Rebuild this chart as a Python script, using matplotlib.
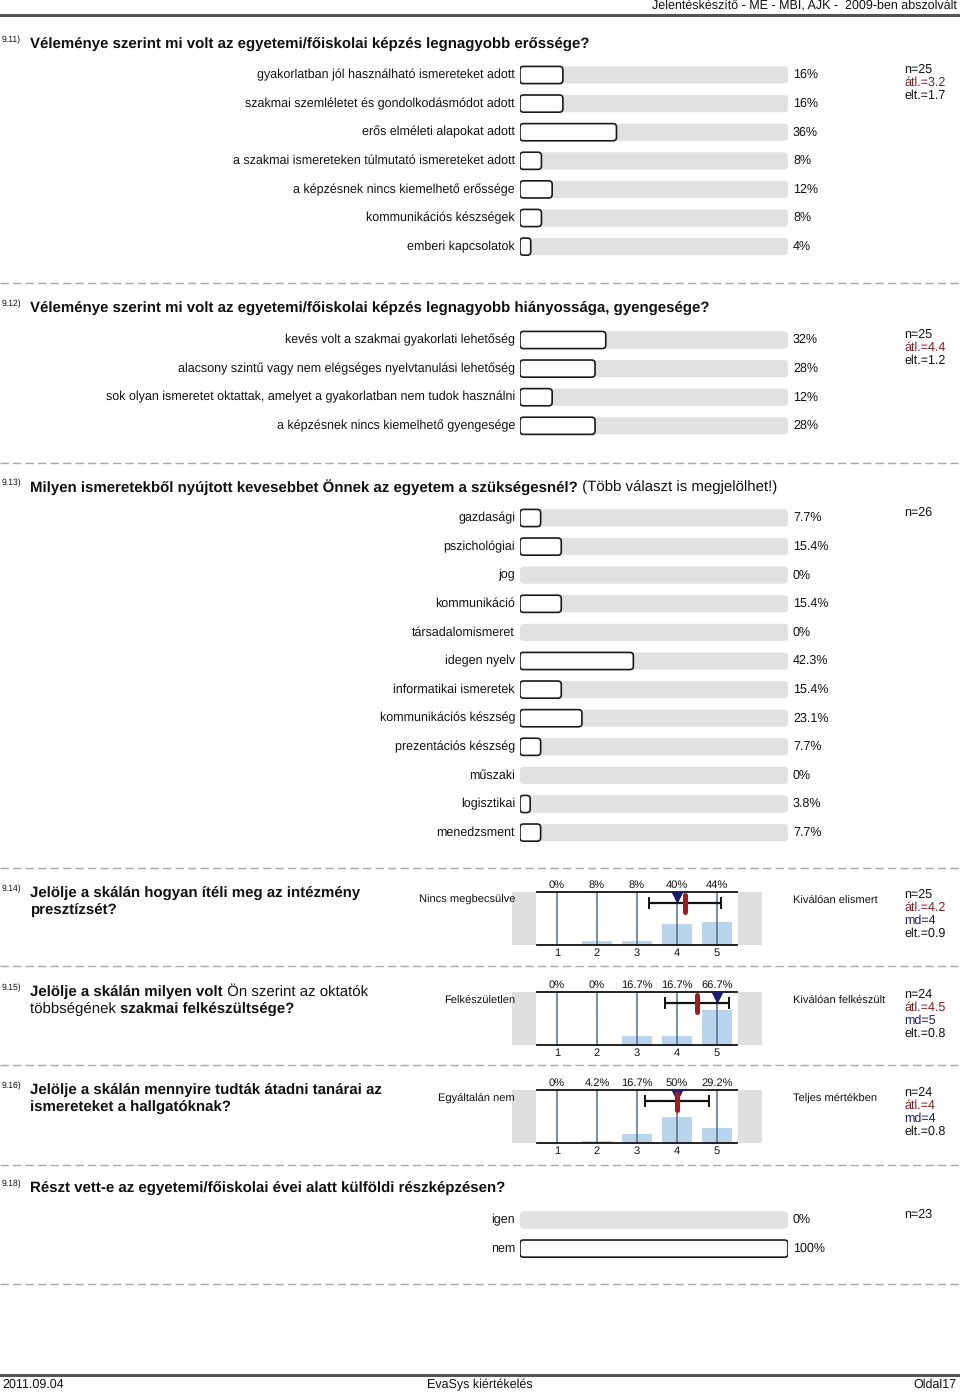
import matplotlib
matplotlib.use('Agg')
import matplotlib.pyplot as plt
from matplotlib.patches import FancyBboxPatch, Rectangle
from matplotlib.lines import Line2D
import matplotlib.transforms as mtransforms

plt.rcParams['font.family'] = ['Liberation Sans', 'DejaVu Sans']
plt.rcParams['text.hinting'] = 'no_hinting'

W, H = 960, 1395
LBL = 9.0
SCL = 8.0
TTL = 10.8
SML = 6.2

# ---------------- data ----------------
header_text = "Jelentéskészítő - ME - MBI, AJK -  2009-ben abszolvált"
footer_left, footer_mid, footer_right = "2011.09.04", "EvaSys kiértékelés", "Oldal17"

q11_num = "9.11)"
q11_title = "Véleménye szerint mi volt az egyetemi/főiskolai képzés legnagyobb erőssége?"
q11_labels = ["gyakorlatban jól használható ismereteket adott",
              "szakmai szemléletet és gondolkodásmódot adott",
              "erős elméleti alapokat adott",
              "a szakmai ismereteken túlmutató ismereteket adott",
              "a képzésnek nincs kiemelhető erőssége",
              "kommunikációs készségek",
              "emberi kapcsolatok"]
q11_values = [16, 16, 36, 8, 12, 8, 4]
q11_stats = ["n=25", "átl.=3.2", "elt.=1.7"]

q12_num = "9.12)"
q12_title = "Véleménye szerint mi volt az egyetemi/főiskolai képzés legnagyobb hiányossága, gyengesége?"
q12_labels = ["kevés volt a szakmai gyakorlati lehetőség",
              "alacsony szintű vagy nem elégséges nyelvtanulási lehetőség",
              "sok olyan ismeretet oktattak, amelyet a gyakorlatban nem tudok használni",
              "a képzésnek nincs kiemelhető gyengesége"]
q12_values = [32, 28, 12, 28]
q12_stats = ["n=25", "átl.=4.4", "elt.=1.2"]

q13_num = "9.13)"
q13_title_bold = "Milyen ismeretekből nyújtott kevesebbet Önnek az egyetem a szükségesnél?"
q13_title_reg = " (Több választ is megjelölhet!)"
q13_labels = ["gazdasági", "pszichológiai", "jog", "kommunikáció", "társadalomismeret",
              "idegen nyelv", "informatikai ismeretek", "kommunikációs készség",
              "prezentációs készség", "műszaki", "logisztikai", "menedzsment"]
q13_values = [7.7, 15.4, 0, 15.4, 0, 42.3, 15.4, 23.1, 7.7, 0, 3.8, 7.7]
q13_stats = ["n=26"]

scale_cats = [1, 2, 3, 4, 5]

q14_num = "9.14)"
q14_title = [[("Jelölje a skálán hogyan ítéli meg az intézmény", 'bold')],
             [("presztízsét?", 'bold')]]
q14_values = [0, 8, 8, 40, 44]
q14_pct = ["0%", "8%", "8%", "40%", "44%"]
q14_mean, q14_median, q14_sd = 4.2, 4, 0.9
q14_left, q14_right = "Nincs megbecsülve", "Kiválóan elismert"
q14_stats = ["n=25", "átl.=4.2", "md=4", "elt.=0.9"]

q15_num = "9.15)"
q15_title = [[("Jelölje a skálán milyen volt", 'bold'), (" Ön szerint az oktatók", 'normal')],
             [("többségének ", 'normal'), ("szakmai felkészültsége?", 'bold')]]
q15_values = [0, 0, 16.7, 16.7, 66.7]
q15_pct = ["0%", "0%", "16.7%", "16.7%", "66.7%"]
q15_mean, q15_median, q15_sd = 4.5, 5, 0.8
q15_left, q15_right = "Felkészületlen", "Kiválóan felkészült"
q15_stats = ["n=24", "átl.=4.5", "md=5", "elt.=0.8"]

q16_num = "9.16)"
q16_title = [[("Jelölje a skálán mennyire tudták átadni tanárai az", 'bold')],
             [("ismereteket a hallgatóknak?", 'bold')]]
q16_values = [0, 4.2, 16.7, 50, 29.2]
q16_pct = ["0%", "4.2%", "16.7%", "50%", "29.2%"]
q16_mean, q16_median, q16_sd = 4.0, 4, 0.8
q16_left, q16_right = "Egyáltalán nem", "Teljes mértékben"
q16_stats = ["n=24", "átl.=4", "md=4", "elt.=0.8"]

q18_num = "9.18)"
q18_title = "Részt vett-e az egyetemi/főiskolai évei alatt külföldi részképzésen?"
q18_labels = ["igen", "nem"]
q18_values = [0, 100]
q18_stats = ["n=23"]

# ---------------- styles ----------------
C_TEXT = '#111111'
C_MEAN = '#7a1f1f'
C_MED = '#1b1b6b'
C_GRAY = '#e1e1e1'
C_SEP = '#a8a8a8'
C_BLUE = '#b9d4ec'
C_VLINE = '#4d6f8c'

fig = plt.figure(figsize=(W / 100, H / 100), dpi=100)


def fy(y):
    return 1 - y / H


def ftext(x, y, s, **kw):
    kw.setdefault('va', 'center')
    kw.setdefault('color', C_TEXT)
    return fig.text(x / W, fy(y), s, **kw)


def hline(y, x0=0, x1=W, **kw):
    fig.add_artist(Line2D([x0 / W, x1 / W], [fy(y), fy(y)], transform=fig.transFigure, **kw))


def stats_text(x, y, stats):
    for k, s in enumerate(stats):
        c = C_TEXT
        if s.startswith('átl'):
            c = C_MEAN
        elif s.startswith('md'):
            c = C_MED
        ftext(x, y + 12.7 * k, s, fontsize=LBL, color=c)


def mixed_line(x, y, parts, size):
    renderer = fig.canvas.get_renderer()
    cx = x
    for s, w in parts:
        t = ftext(cx, y, s, fontsize=size, fontweight=w, ha='left')
        bb = t.get_window_extent(renderer=renderer)
        cx += bb.width


def title(num, y, lines):
    ftext(2, y - 4, num, fontsize=SML)
    for k, parts in enumerate(lines):
        mixed_line(30, y + 16.5 * k, parts, TTL)


ROW = 28.6
BAR_L, BAR_W = 520, 268


def bar_block(first_center, labels, values, stats):
    n = len(labels)
    top = first_center - ROW / 2
    ax = fig.add_axes([BAR_L / W, fy(top + n * ROW), BAR_W / W, n * ROW / H])
    ax.set_xlim(0, 100)
    ax.set_ylim(n - 0.5, -0.5)
    ax.axis('off')
    asp = (BAR_W / 100) / ROW
    bh = 0.6
    r = 1.3
    lab_tr = mtransforms.offset_copy(ax.transData, fig=fig, x=-5, y=0, units='dots')
    pct_tr = mtransforms.offset_copy(ax.transData, fig=fig, x=5, y=0, units='dots')
    for i, (lab, v) in enumerate(zip(labels, values)):
        ax.add_patch(FancyBboxPatch((0, i - bh / 2), 100, bh,
                                    boxstyle=f"round,pad=0,rounding_size={r}",
                                    mutation_aspect=asp, facecolor=C_GRAY,
                                    edgecolor='none', zorder=1))
        if v > 0:
            ax.add_patch(FancyBboxPatch((0, i - bh / 2), v, bh,
                                        boxstyle=f"round,pad=0,rounding_size={r}",
                                        mutation_aspect=asp, facecolor='white',
                                        edgecolor='#1a1a1a', lw=1.2, zorder=2))
        ax.text(0, i, lab, transform=lab_tr, ha='right', va='center',
                fontsize=LBL, color=C_TEXT)
        ax.text(100, i, f"{v:g}%", transform=pct_tr, ha='left', va='center',
                fontsize=LBL, color=C_TEXT)
    stats_text(904, first_center - 5, stats)
    return ax


PLOT_L, PLOT_W, PLOT_H = 537, 200, 53


def scale_block(top, values, pct, mean, median, sd, left, right, stats):
    ax = fig.add_axes([PLOT_L / W, fy(top + PLOT_H), PLOT_W / W, PLOT_H / H])
    ax.set_xlim(0.5, 5.5)
    ax.set_ylim(0, 100)
    ax.bar(scale_cats, values, width=0.75, color=C_BLUE, zorder=1)
    for c in scale_cats:
        ax.axvline(c, color=C_VLINE, lw=1.1, zorder=2)
    for s in ('left', 'right'):
        ax.spines[s].set_visible(False)
    for s in ('top', 'bottom'):
        ax.spines[s].set_linewidth(1.3)
        ax.spines[s].set_color('#111111')
    ax.set_yticks([])
    ax.set_xticks(scale_cats)
    ax.set_xticklabels([str(c) for c in scale_cats], fontsize=SCL, color=C_TEXT)
    ax.tick_params(axis='x', length=0, pad=2)
    ax.set_facecolor('white')
    # side gray blocks
    ax.add_patch(Rectangle((-25 / PLOT_W, 0), 24 / PLOT_W, 1, transform=ax.transAxes,
                           facecolor='#dedede', edgecolor='none', clip_on=False, zorder=0))
    ax.add_patch(Rectangle((1 + 1 / PLOT_W, 0), 24 / PLOT_W, 1, transform=ax.transAxes,
                           facecolor='#dedede', edgecolor='none', clip_on=False, zorder=0))
    bt = mtransforms.blended_transform_factory(ax.transData, ax.transAxes)
    bt = mtransforms.offset_copy(bt, fig=fig, x=0, y=2, units='dots')
    for c, p in zip(scale_cats, pct):
        ax.text(c, 1.0, p, transform=bt, ha='center', va='bottom', fontsize=SCL, color=C_TEXT)
    ax.errorbar([mean], [80], xerr=[sd], fmt='none', ecolor='#111111', elinewidth=1.6,
                capsize=4.5, capthick=1.4, zorder=4)
    ax.plot([median], [91.5], marker='v', ms=7.5, color=C_MED, mec=C_MED, zorder=5, clip_on=False)
    ax.plot([mean, mean], [63, 95], color='#a3191c', lw=3.6, solid_capstyle='round', zorder=6)
    ftext(515, top + 8, left, fontsize=SCL, ha='right')
    ftext(793, top + 8, right, fontsize=SCL, ha='left')
    stats_text(904, top + 3, stats)
    return ax


# ---------------- header / footer ----------------
ftext(957, 6, header_text, fontsize=LBL, ha='right')
hline(15, lw=2.2, color='#555555')
hline(1375, lw=2.2, color='#555555')
ftext(2, 1385, footer_left, fontsize=LBL, ha='left')
ftext(480, 1385, footer_mid, fontsize=LBL, ha='center')
ftext(957, 1385, footer_right, fontsize=LBL, ha='right')

# separators
for ys in [283, 463, 868, 966, 1065, 1165, 1284]:
    hline(ys, lw=1.0, color=C_SEP, linestyle=(0, (6, 3)))

# ---------------- sections ----------------
title(q11_num, 44, [[(q11_title, 'bold')]])
bar_block(75, q11_labels, q11_values, q11_stats)

title(q12_num, 308, [[(q12_title, 'bold')]])
bar_block(340, q12_labels, q12_values, q12_stats)

title(q13_num, 487, [[(q13_title_bold, 'bold'), (q13_title_reg, 'normal')]])
bar_block(518, q13_labels, q13_values, q13_stats)

title(q14_num, 893, q14_title)
scale_block(892, q14_values, q14_pct, q14_mean, q14_median, q14_sd, q14_left, q14_right, q14_stats)

title(q15_num, 992, q15_title)
scale_block(992, q15_values, q15_pct, q15_mean, q15_median, q15_sd, q15_left, q15_right, q15_stats)

title(q16_num, 1090, q16_title)
scale_block(1090, q16_values, q16_pct, q16_mean, q16_median, q16_sd, q16_left, q16_right, q16_stats)

title(q18_num, 1188, [[(q18_title, 'bold')]])
bar_block(1220, q18_labels, q18_values, q18_stats)

fig.savefig('out.png', dpi=100)
